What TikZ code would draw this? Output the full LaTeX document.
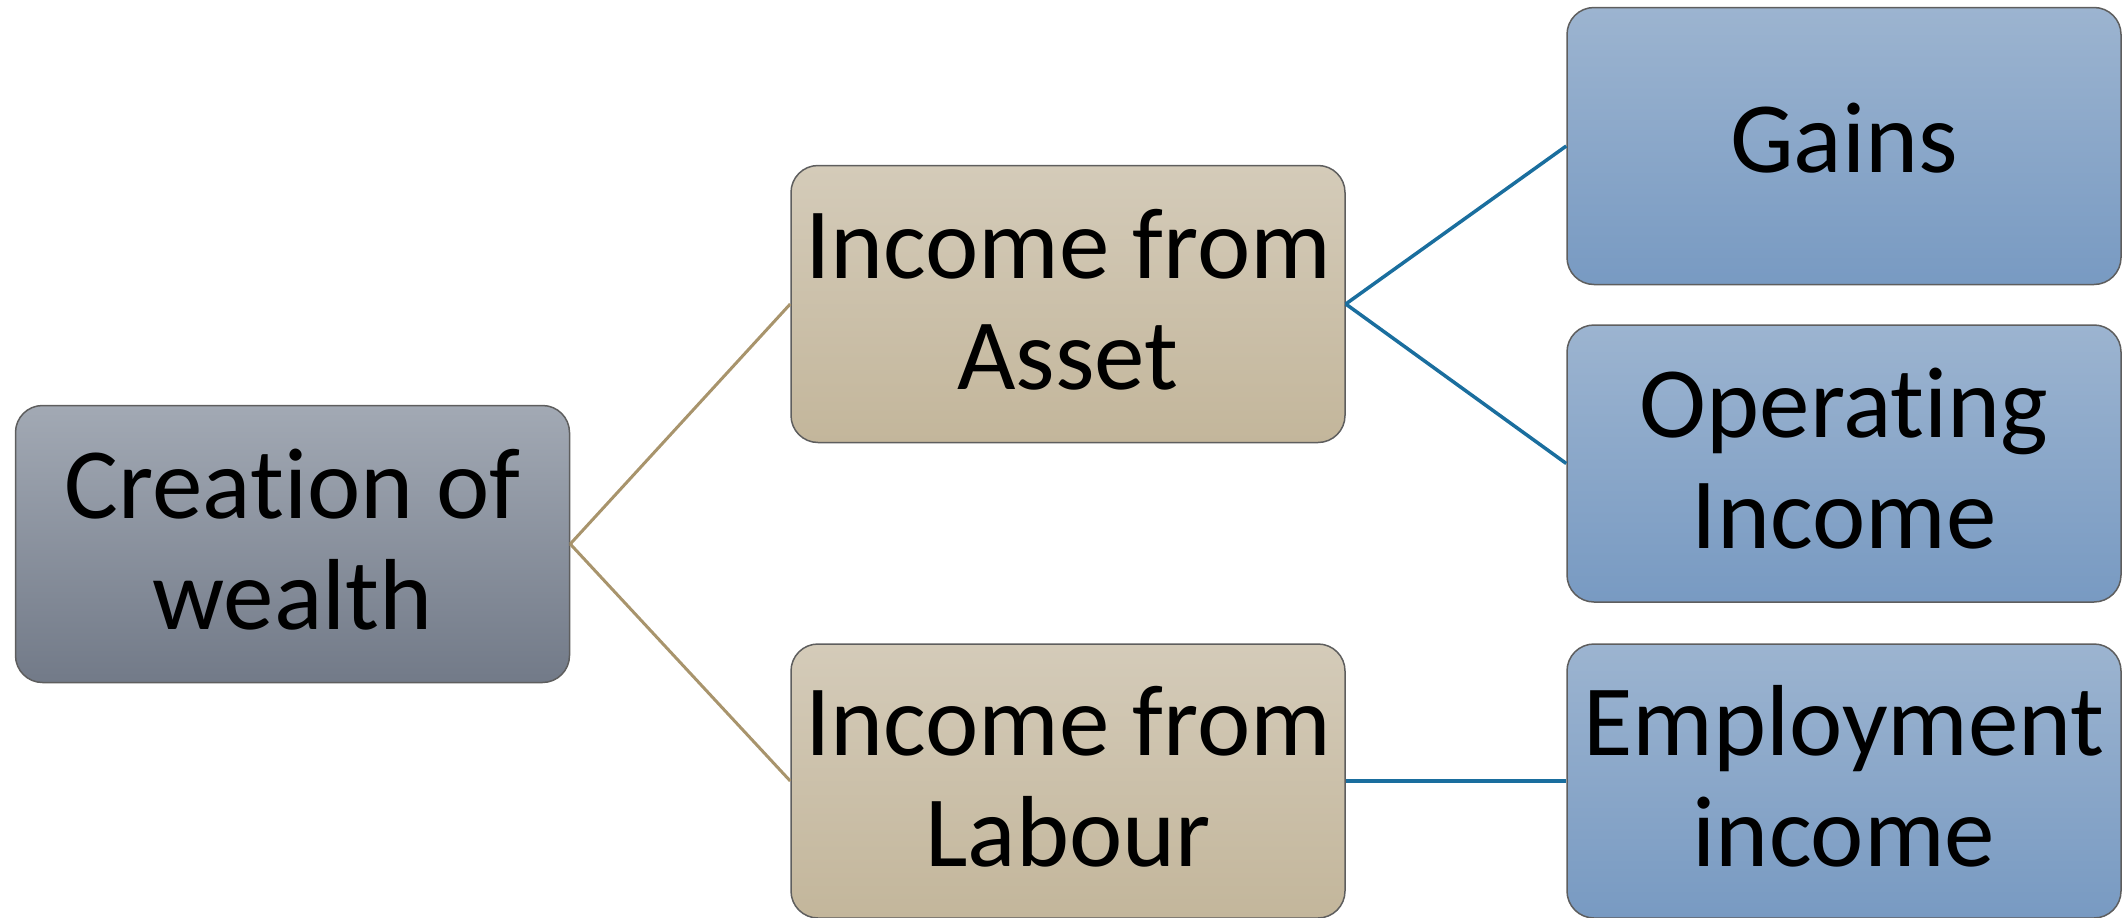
\documentclass[tikz,border=0pt]{standalone}
\usepackage{fontspec}
\setmainfont[Ligatures=NoCommon]{Carlito}
\definecolor{grayTop}{HTML}{A2A9B4}
\definecolor{grayBot}{HTML}{727A88}
\definecolor{tanTop}{HTML}{D4CBB9}
\definecolor{tanBot}{HTML}{C3B69B}
\definecolor{blueTop}{HTML}{9CB4D0}
\definecolor{blueBot}{HTML}{789AC2}
\definecolor{tanLine}{HTML}{A8946C}
\definecolor{blueLine}{HTML}{1A6E9E}
\definecolor{edge}{HTML}{5E5E5E}
\tikzset{
  box/.style={draw=edge, line width=1.5pt, rounded corners=27pt,
    minimum width=554pt, minimum height=277pt, inner sep=0pt,
    align=center, font=\fontsize{101}{111}\selectfont},
  graybox/.style={box, top color=grayTop, bottom color=grayBot},
  tanbox/.style={box, top color=tanTop, bottom color=tanBot},
  bluebox/.style={box, top color=blueTop, bottom color=blueBot},
  oneline/.style={text height=52pt, text depth=0pt},
  twoline/.style={text height=170pt, text depth=0pt},
  tanlink/.style={draw=tanLine, line width=3pt},
  bluelink/.style={draw=blueLine, line width=3.5pt}
}
\begin{document}
\begin{tikzpicture}[x=1pt,y=-1pt]
\useasboundingbox (0,0) rectangle (2126,918);
\node[graybox, twoline] (cw) at (292.5,544) {Creation of\\wealth};
\node[tanbox, twoline] (asset) at (1068,304) {Income from\\Asset};
\node[tanbox, twoline, minimum height=274pt] (labour) at (1068,781) {Income from\\Labour};
\node[bluebox, oneline] (gains) at (1844,146) {Gains};
\node[bluebox, twoline] (oper) at (1844,463.5) {Operating\\Income};
\node[bluebox, twoline, minimum height=274pt] (empl) at (1844,781) {Employment\\income};
\draw[tanlink] (cw.east) -- (asset.west);
\draw[tanlink] (cw.east) -- (labour.west);
\draw[bluelink] (asset.east) -- (gains.west);
\draw[bluelink] (asset.east) -- (oper.west);
\draw[bluelink] (labour.east) -- (empl.west);
\end{tikzpicture}
\end{document}
